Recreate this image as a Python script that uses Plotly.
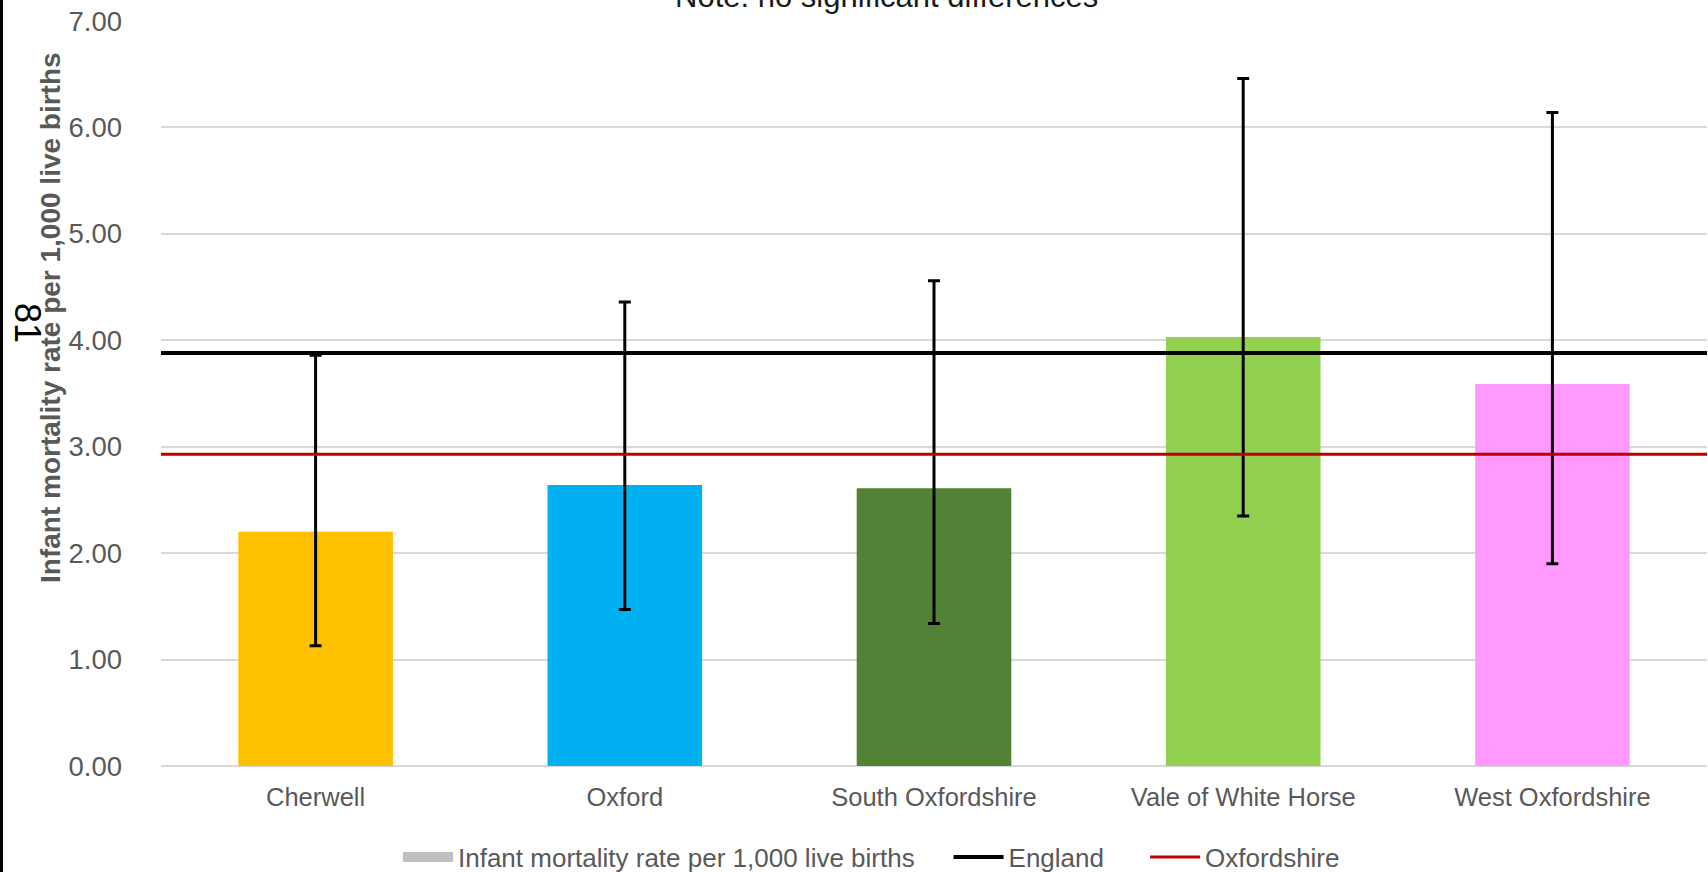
import plotly.graph_objects as go

# ---- data ----
districts = ["Cherwell", "Oxford", "South Oxfordshire", "Vale of White Horse", "West Oxfordshire"]
rates = [2.20, 2.64, 2.61, 4.03, 3.59]
lower_ci = [1.13, 1.47, 1.34, 2.35, 1.90]
upper_ci = [3.86, 4.36, 4.56, 6.46, 6.14]
bar_colors = ["#FFC000", "#00B0F0", "#538135", "#92D050", "#FF99FF"]
england_rate = 3.88
oxfordshire_rate = 2.93
y_ticks = [0, 1, 2, 3, 4, 5, 6, 7]
series_names = ["Infant mortality rate per 1,000 live births", "England", "Oxfordshire"]

W, H = 1708, 872
ML, MR, MT, MB = 161, 1, 21, 106
PW, PH = W - ML - MR, H - MT - MB

def px_x(px):
    return (px - ML) / PW

def px_y(py):
    return (H - MB - py) / PH

TXT = "#595959"
FONT = "Liberation Sans, Arial, sans-serif"
NARROW = "Liberation Sans Narrow, Arial Narrow, Liberation Sans, sans-serif"
GAP1 = "\u00a0" * 4
GAP2 = "\u00a0" * 5

fig = go.Figure()

fig.add_trace(go.Bar(
    x=districts, y=rates,
    marker=dict(color=bar_colors, line=dict(width=0)),
    error_y=dict(type="data", symmetric=False,
                 array=[u - r for u, r in zip(upper_ci, rates)],
                 arrayminus=[r - l for r, l in zip(rates, lower_ci)],
                 color="black", thickness=3, width=6),
    showlegend=False, name=series_names[0],
))

# legend swatch for the bar series
fig.add_trace(go.Scatter(
    x=[None], y=[None], mode="lines", xaxis="x2",
    line=dict(color="#BFBFBF", width=13),
    name=series_names[0] + GAP1,
))

fig.add_trace(go.Scatter(
    x=[0, 1], y=[england_rate, england_rate], mode="lines", xaxis="x2",
    line=dict(color="black", width=4), name=series_names[1] + GAP2,
))
fig.add_trace(go.Scatter(
    x=[0, 1], y=[oxfordshire_rate, oxfordshire_rate], mode="lines", xaxis="x2",
    line=dict(color="#C00000", width=3), name=series_names[2],
))

fig.update_layout(
    width=W, height=H,
    margin=dict(l=ML, r=MR, t=MT, b=MB, autoexpand=False),
    paper_bgcolor="white", plot_bgcolor="white",
    bargap=0.5, barmode="overlay",
    font=dict(family=FONT, color=TXT),
    xaxis=dict(type="category", showgrid=False, showline=False, ticks="",
               tickfont=dict(size=25.5, color=TXT, family=FONT),
               ticklabelstandoff=13, zeroline=False, automargin=False),
    xaxis2=dict(overlaying="x", range=[0, 1], visible=False, showgrid=False),
    yaxis=dict(range=[0, 7], tickvals=y_ticks, tickformat=".2f",
               showgrid=True, gridcolor="#D9D9D9", gridwidth=1.5,
               zeroline=True, zerolinecolor="#D9D9D9", zerolinewidth=1.5,
               showline=False, ticks="", automargin=False,
               tickfont=dict(size=27.5, color=TXT, family=FONT),
               ticklabelstandoff=38),
    legend=dict(orientation="h", x=px_x(398), xanchor="left",
                y=px_y(857), yanchor="middle",
                font=dict(size=26, color=TXT, family=NARROW),
                itemwidth=50, tracegroupgap=0, bgcolor="rgba(0,0,0,0)"),
    showlegend=True,
)

fig.add_annotation(
    text=series_names[0],
    xref="paper", yref="paper", x=px_x(50), y=px_y(318),
    xanchor="center", yanchor="middle", textangle=-90, showarrow=False,
    font=dict(size=28, color=TXT, family=FONT, weight="bold"),
)

fig.add_annotation(
    text="Note: no significant differences",
    xref="paper", yref="paper", x=px_x(886), y=px_y(-3),
    xanchor="center", yanchor="middle", showarrow=False,
    font=dict(size=31, color="#1a1a1a", family=FONT),
    bgcolor="white", borderpad=18,
)

fig.add_annotation(
    text="81", textangle=90,
    xref="paper", yref="paper", x=px_x(28), y=px_y(323),
    xanchor="center", yanchor="middle", showarrow=False,
    font=dict(size=36, color="black", family=FONT),
)

fig.add_shape(type="line", xref="paper", yref="paper",
              x0=px_x(1.5), x1=px_x(1.5), y0=px_y(0), y1=px_y(H),
              line=dict(color="black", width=3))

fig.write_html(
    "out.html",
    config={"displayModeBar": False},
    post_script="document.body.style.margin='0';document.body.style.padding='0';"
                "document.body.style.overflow='hidden';",
)
